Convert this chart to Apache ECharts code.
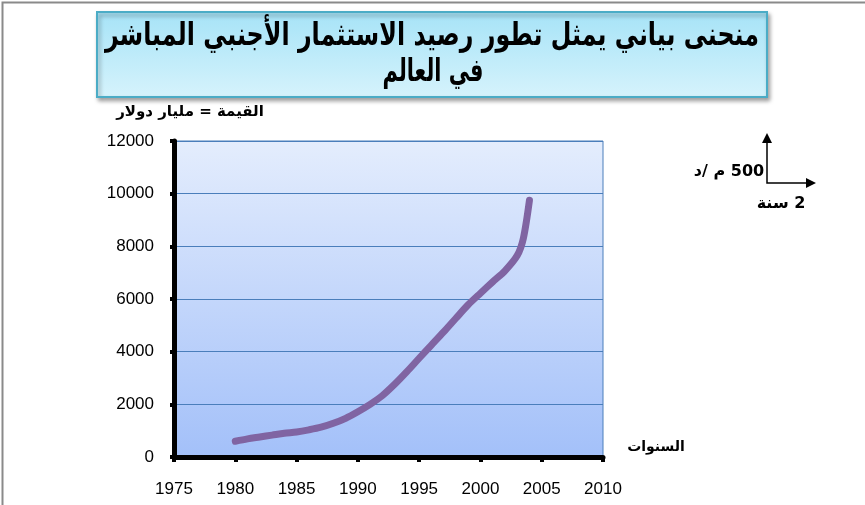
<!DOCTYPE html>
<html><head><meta charset="utf-8">
<script src="https://cdn.jsdelivr.net/npm/echarts@6/dist/echarts.min.js"></script>
<style>html,body{margin:0;padding:0;background:#fff}#c{width:865px;height:505px}</style>
</head><body><div id="c"></div>
<script>
const years = [1980,1981,1982,1983,1984,1985,1986,1987,1988,1989,1990,1991,1992,1993,1994,1995,1996,1997,1998,1999,2000,2001,2002,2003,2003.5,2004];
const values = [600,690,760,830,900,950,1030,1130,1280,1470,1720,2000,2330,2760,3240,3750,4250,4750,5270,5780,6220,6650,7070,7650,8300,9750];
const yTicks = [0,2000,4000,6000,8000,10000,12000];
const xTicks = [1975,1980,1985,1990,1995,2000,2005,2010];
const titleLines = ['منحنى بياني يمثل تطور رصيد الاستثمار الأجنبي المباشر','في العالم'];
const yName = 'القيمة = مليار دولار';
const xName = 'السنوات';
const keyY = '\u200F500 م /د';
const keyX = '\u200F2 سنة';

const chart = echarts.init(document.getElementById('c'));
const AR = 'DejaVu Sans';
chart.setOption({
  animation:false,
  backgroundColor:'#fff',
  grid:{left:174,right:262,top:141,bottom:48,show:true,
    backgroundColor:new echarts.graphic.LinearGradient(0,0,0,1,[{offset:0,color:'#E4EDFD'},{offset:1,color:'#A3C0F9'}]),
    borderColor:'#4A7EBB',borderWidth:1},
  xAxis:{type:'value',min:xTicks[0],max:xTicks[xTicks.length-1],interval:5,
    axisLine:{show:true,onZero:false,lineStyle:{color:'#000',width:5}},
    axisTick:{show:true,length:5,lineStyle:{color:'#000',width:4}},
    axisLabel:{color:'#000',fontFamily:'Liberation Sans',fontSize:17,margin:24,formatter:v=>String(v)},
    splitLine:{show:false}},
  yAxis:{type:'value',min:yTicks[0],max:yTicks[yTicks.length-1],interval:2000,
    axisLine:{show:true,onZero:false,lineStyle:{color:'#000',width:5}},
    axisTick:{show:true,length:4,lineStyle:{color:'#000',width:4}},
    axisLabel:{color:'#000',fontFamily:'Liberation Sans',fontSize:17,margin:20,formatter:v=>String(v)},
    splitLine:{show:true,lineStyle:{color:'#4A7EBB',width:1}}},
  series:[{type:'line',data:years.map((y,i)=>[y,values[i]]),smooth:0.3,showSymbol:false,
    lineStyle:{color:'#8064A2',width:7,cap:'round',join:'round'}}],
  graphic:[
    {type:'rect',left:0,top:0,shape:{width:864,height:504},style:{fill:'none',stroke:'#8a8a8a',lineWidth:2},z:-1},
    {type:'rect',x:97,y:12,shape:{width:670,height:85},
      style:{fill:new echarts.graphic.LinearGradient(0,0,0,1,[{offset:0,color:'#A6E3F7'},{offset:1,color:'#D6F3FC'}]),
        stroke:'#4BACC6',lineWidth:2,shadowBlur:4,shadowOffsetX:2,shadowOffsetY:3,shadowColor:'rgba(0,0,0,0.35)'},z:10},
    {type:'text',x:432,y:37,scaleX:0.82,scaleY:1.1,z:11,style:{text:titleLines[0],font:'bold 29px "'+AR+'"',fill:'#000',align:'center',verticalAlign:'middle'}},
    {type:'text',x:433,y:73,scaleX:0.72,scaleY:1.1,z:11,style:{text:titleLines[1],font:'bold 29px "'+AR+'"',fill:'#000',align:'center',verticalAlign:'middle'}},
    {type:'text',x:190,y:112,z:11,style:{text:yName,font:'bold 15px "'+AR+'"',fill:'#000',align:'center',verticalAlign:'middle'}},
    {type:'text',x:656,y:447,z:11,style:{text:xName,font:'bold 14px "'+AR+'"',fill:'#000',align:'center',verticalAlign:'middle'}},
    {type:'text',x:729,y:172,z:11,style:{text:keyY,font:'bold 16px "'+AR+'"',fill:'#000',align:'center',verticalAlign:'middle'}},
    {type:'text',x:781,y:204,z:11,style:{text:keyX,font:'bold 16px "'+AR+'"',fill:'#000',align:'center',verticalAlign:'middle'}},
    {type:'polyline',shape:{points:[[767,140],[767,183],[808,183]]},style:{stroke:'#000',lineWidth:1.5,fill:'none'},z:11},
    {type:'polygon',shape:{points:[[767,133],[762,143],[772,143]]},style:{fill:'#000'},z:11},
    {type:'polygon',shape:{points:[[816,183],[806,178],[806,188]]},style:{fill:'#000'},z:11}
  ]
});
</script></body></html>
